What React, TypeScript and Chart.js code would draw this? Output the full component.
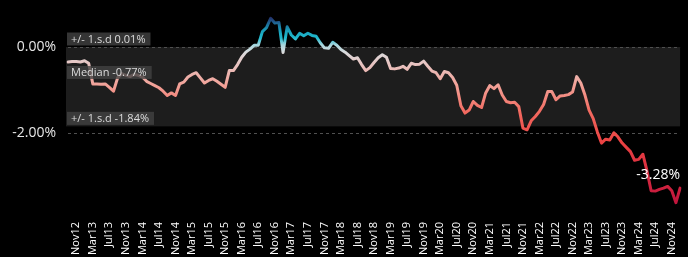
import React, { useEffect, useRef } from 'react';
import { Chart, registerables } from 'chart.js';

Chart.register(...registerables);

const START_YEAR = 2012;
const START_MONTH = 8; // September (0-based)
const MONTH_NAMES = ['Jan', 'Feb', 'Mar', 'Apr', 'May', 'Jun', 'Jul', 'Aug', 'Sep', 'Oct', 'Nov', 'Dec'];

const values: number[] = [
  -0.34, -0.33, -0.33, -0.34, -0.31, -0.37, -0.85, -0.85, -0.86, -0.85,
  -0.93, -1.02, -0.71, -0.61, -0.65, -0.68, -0.63, -0.65, -0.69, -0.79,
  -0.84, -0.89, -0.94, -1.02, -1.12, -1.06, -1.12, -0.85, -0.81, -0.69,
  -0.63, -0.59, -0.71, -0.83, -0.77, -0.73, -0.79, -0.86, -0.93, -0.54,
  -0.54, -0.40, -0.23, -0.11, -0.04, 0.05, 0.05, 0.37, 0.46, 0.68,
  0.57, 0.58, -0.12, 0.48, 0.29, 0.20, 0.33, 0.27, 0.33, 0.28,
  0.26, 0.11, -0.01, -0.02, 0.12, 0.05, -0.05, -0.11, -0.19, -0.27,
  -0.24, -0.40, -0.54, -0.47, -0.35, -0.24, -0.17, -0.23, -0.49, -0.50,
  -0.48, -0.44, -0.51, -0.37, -0.40, -0.39, -0.32, -0.44, -0.55, -0.59,
  -0.73, -0.56, -0.59, -0.70, -0.88, -1.36, -1.53, -1.46, -1.26, -1.35,
  -1.40, -1.06, -0.89, -0.96, -0.87, -1.11, -1.26, -1.29, -1.28, -1.38,
  -1.88, -1.92, -1.71, -1.61, -1.49, -1.33, -1.03, -1.03, -1.22, -1.13,
  -1.12, -1.10, -1.04, -0.68, -0.83, -1.11, -1.46, -1.66, -1.97, -2.23,
  -2.14, -2.16, -1.99, -2.09, -2.23, -2.33, -2.43, -2.63, -2.61, -2.49,
  -2.88, -3.34, -3.35, -3.31, -3.28, -3.24, -3.34, -3.62, -3.28,
];

const categories: string[] = values.map((_, i) => {
  const m = (START_MONTH + i) % 12;
  const y = START_YEAR + Math.floor((START_MONTH + i) / 12);
  return MONTH_NAMES[m] + String(y).slice(2);
});

const yTickValues = [-2, 0];
const Y_MIN = -4.0;
const Y_MAX = 0.91;

const bandUpper = 0.01;
const bandMedian = -0.77;
const bandLower = -1.84;
const bandLabels = ['+/- 1.s.d 0.01%', 'Median -0.77%', '+/- 1.s.d -1.84%'];
const lastLabel = '-3.28%';

const colorStops: [number, string][] = [
  [0.7, '#24306a'],
  [0.55, '#1e6c98'],
  [0.38, '#1aa2bc'],
  [0.22, '#1fbace'],
  [0.06, '#a6d6de'],
  [-0.1, '#d8dcde'],
  [-0.35, '#e6c6c4'],
  [-0.9, '#f2a096'],
  [-1.5, '#f26a60'],
  [-2.2, '#ea4242'],
  [-3.0, '#d62a40'],
  [-3.65, '#c0143c'],
];

const FONT = '"Open Sans", "Noto Sans", sans-serif';

const bandPlugin = {
  id: 'sdBand',
  beforeDraw(chart: any) {
    const { ctx, chartArea: a, scales } = chart;
    const y = scales.y;
    ctx.save();
    ctx.fillStyle = '#000';
    ctx.fillRect(0, 0, chart.width, chart.height);
    const t = y.getPixelForValue(bandUpper);
    const b = y.getPixelForValue(bandLower);
    ctx.fillStyle = '#1d1d1d';
    ctx.fillRect(a.left - 2, t, a.right - a.left + 2, b - t);
    ctx.restore();
  },
  afterDatasetsDraw(chart: any) {
    const { ctx, chartArea: a, scales } = chart;
    const y = scales.y;
    ctx.save();
    ctx.font = '11px ' + FONT;
    const levels = [bandUpper, bandMedian, bandLower];
    levels.forEach((lv, i) => {
      const text = bandLabels[i];
      const yy = y.getPixelForValue(lv);
      const w = ctx.measureText(text).width;
      const bh = 13;
      const bx = a.left - 1;
      const by = yy - 1.5 - bh;
      ctx.fillStyle = 'rgba(66,66,66,0.8)';
      ctx.fillRect(bx, by, w + 9, bh);
      ctx.fillStyle = '#dcdcdc';
      ctx.textBaseline = 'middle';
      ctx.textAlign = 'left';
      ctx.fillText(text, bx + 4, by + bh / 2 + 0.5);
    });
    const lastIdx = values.length - 1;
    const ly = y.getPixelForValue(values[lastIdx]);
    ctx.font = '14px ' + FONT;
    ctx.fillStyle = '#ffffff';
    ctx.textAlign = 'right';
    ctx.textBaseline = 'middle';
    ctx.fillText(lastLabel, a.right, ly - 13);
    ctx.restore();
  },
};

export default function App() {
  const canvasRef = useRef<HTMLCanvasElement | null>(null);

  useEffect(() => {
    document.body.style.margin = '0';
    document.body.style.background = '#000';
    const canvas = canvasRef.current;
    if (!canvas) return;
    const chart = new Chart(canvas, {
      type: 'line',
      data: {
        labels: categories,
        datasets: [
          {
            data: values,
            borderWidth: 3,
            pointRadius: 0,
            tension: 0,
            borderCapStyle: 'round',
            borderJoinStyle: 'round',
            borderColor: (c: any) => {
              const chart = c.chart;
              const { ctx, chartArea, scales } = chart;
              if (!chartArea || !scales.y) return '#ffffff';
              const ys = scales.y;
              const y0 = ys.getPixelForValue(colorStops[0][0]);
              const y1 = ys.getPixelForValue(colorStops[colorStops.length - 1][0]);
              const g = ctx.createLinearGradient(0, y0, 0, y1);
              colorStops.forEach(([v, col]) => {
                const p = (ys.getPixelForValue(v) - y0) / (y1 - y0);
                g.addColorStop(Math.min(1, Math.max(0, p)), col);
              });
              return g;
            },
          } as any,
        ],
      },
      options: {
        animation: false,
        responsive: true,
        maintainAspectRatio: false,
        layout: { padding: 0 },
        plugins: {
          legend: { display: false },
          tooltip: { enabled: false },
        },
        scales: {
          x: {
            type: 'category',
            grid: { display: false, drawTicks: false },
            border: { display: false },
            ticks: {
              autoSkip: false,
              minRotation: 90,
              maxRotation: 90,
              padding: 3,
              color: '#ffffff',
              font: { family: FONT, size: 11 },
              callback: (val: any, idx: number) => {
                if (idx === 0 || idx === values.length - 1) return null;
                return idx % 4 === 2 ? categories[idx] : null;
              },
            },
            afterFit: (scale: any) => {
              scale.height = 38;
            },
          },
          y: {
            min: Y_MIN,
            max: Y_MAX,
            grid: {
              drawTicks: true,
              tickLength: 12,
              tickColor: 'rgba(0,0,0,0)',
              color: '#505050',
              lineWidth: 1,
            },
            border: { display: false, dash: [3, 3] },
            ticks: {
              padding: 0,
              color: '#e6e6e6',
              font: { family: FONT, size: 14 },
              callback: (val: any) => {
                const v = Number(val);
                if (!yTickValues.includes(v)) return null;
                return v.toFixed(2) + '%';
              },
            },
            afterBuildTicks: (scale: any) => {
              scale.ticks = [Y_MIN, ...yTickValues, Y_MAX].map((v) => ({ value: v }));
            },
            afterFit: (scale: any) => {
              scale.width = 68;
            },
          },
        },
      } as any,
      plugins: [bandPlugin],
    });
    return () => chart.destroy();
  }, []);

  return (
    <div style={{ position: 'fixed', left: 0, top: 0, width: 688, height: 257, background: '#000' }}>
      <canvas ref={canvasRef} />
    </div>
  );
}
